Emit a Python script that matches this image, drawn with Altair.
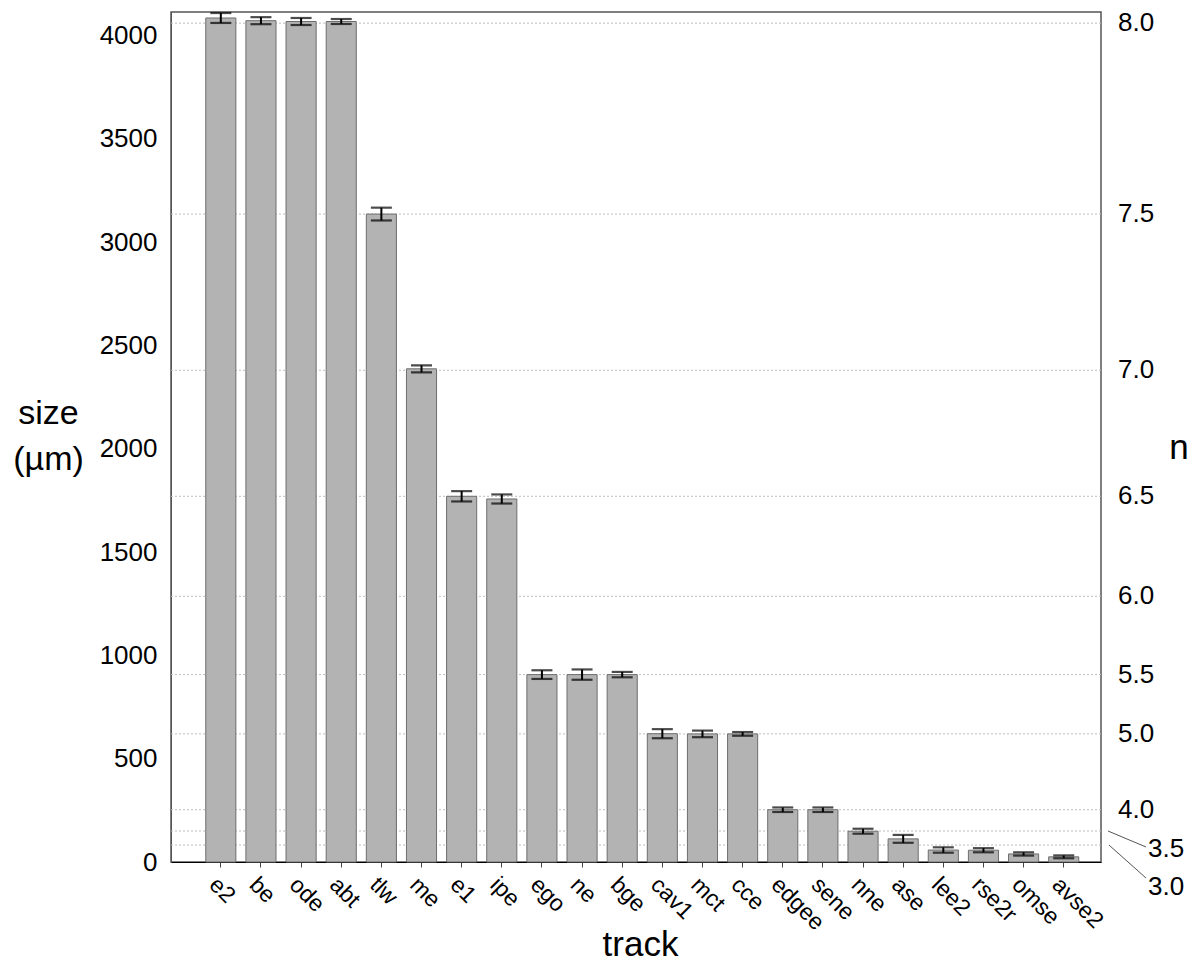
import altair as alt
import pandas as pd

tracks = ["e2", "be", "ode", "abt", "tlw", "me", "e1", "ipe", "ego", "ne", "bge",
          "cav1", "mct", "cce", "edgee", "sene", "nne", "ase", "lee2", "rse2r", "omse", "avse2"]
sizes = [4085, 4072, 4068, 4068, 3136, 2387, 1770, 1757, 907, 907, 907,
         621, 620, 620, 253, 253, 149, 112, 58, 57, 39, 25]
errors = [24, 17, 17, 12, 31, 17, 25, 22, 21, 25, 13,
          22, 16, 9, 11, 11, 12, 19, 13, 10, 8, 7]

grid_n = ["8.0", "7.5", "7.0", "6.5", "6.0", "5.5", "5.0", "4.0", "3.5", "3.0"]
grid_size = [4060, 3136, 2380, 1770, 1286, 907, 620, 253, 150, 82]
y_ticks = [0, 500, 1000, 1500, 2000, 2500, 3000, 3500, 4000]

FONT = "Liberation Sans"
W, H = 930, 850
PL = 163  # left padding -> plot left edge at 171 px on the page

bars_df = pd.DataFrame({"track": tracks, "size": sizes, "err": errors})
grid_df = pd.DataFrame({"n": grid_n, "v": grid_size})

xscale = alt.Scale(domain=tracks, paddingInner=0.25, paddingOuter=0.71, align=0.61)
yscale = alt.Scale(domain=[0, 4114], nice=False, zero=True)

xaxis = alt.Axis(title="track", labelAngle=45, labelAlign="left", labelBaseline="top",
                 labelFontSize=23, labelFont=FONT, labelPadding=6, tickSize=5,
                 tickColor="#444", domainColor="#000", labelColor="#000",
                 titleFont=FONT, titleFontSize=35, titleFontWeight="normal", titleColor="#000",
                 titleX=640 - 8 - PL, titleY=82, titleBaseline="middle", titleAlign="center")
yaxis = alt.Axis(title=["size", "(µm)"], values=y_ticks, format="d",
                 grid=False, tickSize=0, labelPadding=14, labelFontSize=26, labelFont=FONT,
                 labelColor="#000", domainColor="#555",
                 titleAngle=0, titleFont=FONT, titleFontSize=34, titleFontWeight="normal",
                 titleColor="#000",
                 titleX=48 - 8 - PL, titleY=401, titleAlign="center", titleBaseline="middle",
                 titleLineHeight=46)

def X():
    return alt.X("track:N", scale=xscale, sort=tracks, axis=xaxis)

def Y(field):
    return alt.Y(field, scale=yscale, axis=yaxis)

grid = alt.Chart(grid_df).mark_rule(color="#bdbdbd", strokeDash=[2, 2], strokeWidth=1).encode(
    y=Y("v:Q")
)

bars = alt.Chart(bars_df).mark_bar(color="#b3b3b3", stroke="#6e6e6e", strokeWidth=1).encode(
    x=X(), y=Y("size:Q")
)

base_err = alt.Chart(bars_df).transform_calculate(
    lo="datum.size - datum.err", hi="datum.size + datum.err"
)
stems = base_err.mark_rule(color="#000", strokeWidth=2).encode(
    x=X(), y=Y("lo:Q"), y2="hi:Q",
)
cap_lo = base_err.mark_tick(color="#000", thickness=2.2, size=21).encode(
    x=X(), y=Y("lo:Q"),
)
cap_hi = base_err.mark_tick(color="#000", thickness=2.2, size=21).encode(
    x=X(), y=Y("hi:Q"),
)

right_main = alt.Chart(grid_df).transform_filter(
    "datum.v > 200"
).mark_text(align="left", baseline="middle", font=FONT, fontSize=26, color="#000").encode(
    x=alt.value(W + 17), y=Y("v:Q"), text="n:N"
)
right_35 = alt.Chart(grid_df).transform_filter(
    "datum.n == '3.5'"
).mark_text(align="left", baseline="middle", font=FONT, fontSize=26, color="#000", dy=18).encode(
    x=alt.value(W + 47), y=Y("v:Q"), text="n:N"
)
right_30 = alt.Chart(grid_df).transform_filter(
    "datum.n == '3.0'"
).mark_text(align="left", baseline="middle", font=FONT, fontSize=26, color="#000", dy=42).encode(
    x=alt.value(W + 47), y=Y("v:Q"), text="n:N"
)
lead_35 = alt.Chart(grid_df).transform_filter("datum.n == '3.5'").mark_rule(
    color="#555", strokeWidth=1).encode(
    x=alt.value(W + 7), x2=alt.value(W + 45), y=Y("v:Q"), y2=alt.value(835)
)
lead_30 = alt.Chart(grid_df).transform_filter("datum.n == '3.0'").mark_rule(
    color="#555", strokeWidth=1).encode(
    x=alt.value(W + 8), x2=alt.value(W + 45), y=Y("v:Q"), y2=alt.value(866)
)
n_title = alt.Chart(pd.DataFrame({"t": ["n"]})).mark_text(
    align="center", baseline="middle", font=FONT, fontSize=35, color="#000").encode(
    x=alt.value(1179 - 8 - PL), y=alt.value(436), text="t:N"
)

chart = alt.layer(grid, bars, stems, cap_lo, cap_hi, right_main, right_35, right_30,
                  lead_35, lead_30, n_title).properties(
    width=W, height=H,
    autosize=alt.AutoSizeParams(type="none"),
    padding={"left": PL, "top": 4, "right": 90, "bottom": 100},
).configure_view(stroke="#555", strokeWidth=1.5)

chart.save("out.html", embed_options={"renderer": "svg", "actions": False})
